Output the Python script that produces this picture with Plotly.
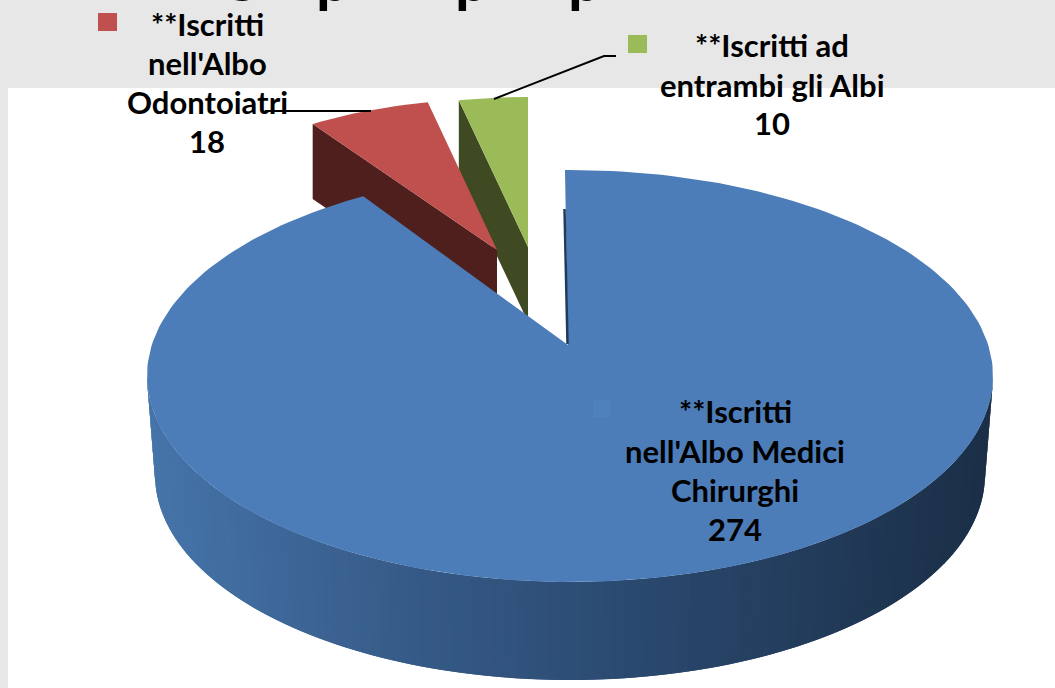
import numpy as np
import plotly.graph_objects as go

# --- data ---
labels = ["**Iscritti nell'Albo Medici Chirurghi", "**Iscritti nell'Albo Odontoiatri", "**Iscritti ad entrambi gli Albi"]
values = [274, 18, 10]
label_lines = [["**Iscritti", "nell'Albo Medici", "Chirurghi", "274"],
               ["**Iscritti", "nell'Albo", "Odontoiatri", "18"],
               ["**Iscritti ad", "entrambi gli Albi", "10"]]
title_letters = ["g", "p", "p", "p"]
top_colors = ["#4c7db9", "#c0504d", "#9bbb59"]
side_colors = ["#1f3a5a", "#4e1f1d", "#3f4a23"]
swatch_colors = ["#4f81bd", "#c0504d", "#9bbb59"]

W, H = 1055, 688
total = sum(values)
spans = [v / total * 2 * np.pi for v in values]
starts = np.concatenate([[0], np.cumsum(spans)[:-1]])

CX, CY, RX, RY = 570, 376, 423, 206
APEX = (568, 345)
BOTTOM = (570, 475, 415, 205)
WARP = 1.0126
EXPL = {1: (497, 250, 335, 151), 2: (528, 247, 335, 150)}
DEPTH = 75

fig = go.Figure()

def poly(xs, ys, color, line=0):
    fig.add_trace(go.Scatter(x=list(xs), y=list(ys), mode="lines", fill="toself", fillcolor=color,
                             line=dict(color=color, width=line), hoverinfo="skip", showlegend=False))

def seg(xs, ys, color="#000000", width=2):
    fig.add_trace(go.Scatter(x=xs, y=ys, mode="lines", line=dict(color=color, width=width),
                             hoverinfo="skip", showlegend=False))

def lerp_color(x):
    stops_x = [148, 400, 700, 993]
    stops_c = np.array([[0x46, 0x75, 0xaa], [0x37, 0x5c, 0x8a], [0x28, 0x45, 0x69], [0x1b, 0x2f, 0x47]])
    c = [np.interp(x, stops_x, stops_c[:, i]) for i in range(3)]
    return "rgb(%d,%d,%d)" % tuple(c)

# background
fig.add_shape(type="rect", x0=0, x1=W, y0=0, y1=H, fillcolor="#e7e7e7", line_width=0, layer="below")
fig.add_shape(type="rect", x0=8, x1=W, y0=88, y1=H, fillcolor="#ffffff", line_width=0, layer="below")

# exploded slices: cut faces then tops (green before red)
for i in (2, 1):
    ax, ay, rx, ry = EXPL[i]
    a0, a1 = starts[i], starts[i] + spans[i]
    poly([ax + rx * np.sin(a0), ax, ax, ax + rx * np.sin(a0)],
         [ay - ry * np.cos(a0), ay, ay + DEPTH, ay - ry * np.cos(a0) + DEPTH], side_colors[i])
    t = np.linspace(a0, a1, 12)
    poly(np.r_[ax, ax + rx * np.sin(t)], np.r_[ay, ay - ry * np.cos(t)], top_colors[i])

# blue outer wall: overlapping strips painted right to left, shaded by position
bx, by, brx, bry = BOTTOM
edges = np.linspace(np.pi / 2, 3 * np.pi / 2, 121)
for j in range(len(edges) - 1):
    a = edges[j]
    b = edges[min(j + 2, len(edges) - 1)]
    tx = [CX + RX * np.sin(a), CX + RX * np.sin(b), bx + brx * np.sin(b), bx + brx * np.sin(a)]
    ty = [CY - RY * np.cos(a), CY - RY * np.cos(b), by - bry * np.cos(b), by - bry * np.cos(a)]
    poly(tx, ty, lerp_color(CX + RX * np.sin(edges[j])))

# blue top
t = np.linspace(starts[0], spans[0] * WARP, 240)
poly(np.r_[APEX[0], CX - 5, CX + RX * np.sin(t)], np.r_[APEX[1], CY - RY, CY - RY * np.cos(t)], top_colors[0])
seg([564.5, 567.5], [209, 344], side_colors[0], 2.5)

# faint blue key square on the slice, plus the two outer keys
fig.add_shape(type="rect", x0=593, x1=610, y0=400, y1=417, fillcolor=swatch_colors[0], line_width=0)
fig.add_shape(type="rect", x0=98, x1=117, y0=13, y1=31, fillcolor=swatch_colors[1], line_width=0)
fig.add_shape(type="rect", x0=628, x1=647, y0=35, y1=53, fillcolor=swatch_colors[2], line_width=0)

# leader lines
seg([265, 371], [111, 111])
seg([494, 604, 616], [99, 56, 56])

# labels
line_pos = [(735, [411, 451, 490, 529]), (207, [24, 63, 102, 141]), (772, [45, 85, 123])]
for lines, (x, ys) in zip(label_lines, line_pos):
    for txt, y in zip(lines, ys):
        fig.add_annotation(x=x, y=y, text="<b>%s</b>" % txt, showarrow=False, xanchor="center", yanchor="middle",
                           font=dict(family="Lato", size=31, color="#000000"))

# the chopped-off slide title: only its descenders reach into the picture
for letter, x, shift in zip(title_letters, [243, 333, 472, 585], [-5, -16, -16, -16]):
    fig.add_annotation(x=x, xref="x", y=1, yref="paper", yanchor="bottom", xanchor="center", yshift=shift,
                       text="<b>%s</b>" % letter, showarrow=False, font=dict(family="Lato", size=60, color="#000000"))

fig.update_layout(width=W, height=H, margin=dict(l=0, r=0, t=0, b=0), paper_bgcolor="#e7e7e7",
                  plot_bgcolor="rgba(0,0,0,0)", showlegend=False,
                  xaxis=dict(range=[0, W], visible=False, fixedrange=True),
                  yaxis=dict(range=[H, 0], visible=False, fixedrange=True))
fig.write_html("out.html", config={"displayModeBar": False},
               post_script="document.body.style.margin='0';document.documentElement.style.overflow='hidden';")
